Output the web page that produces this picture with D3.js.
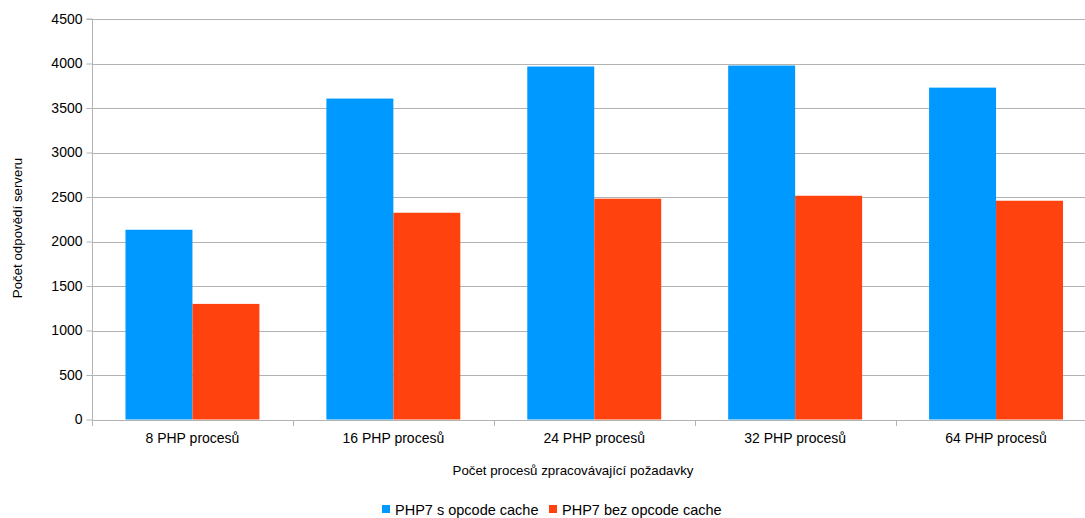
<!DOCTYPE html>
<html>
<head>
<meta charset="utf-8">
<script src="https://cdn.jsdelivr.net/npm/d3@7"></script>
<style>
  html, body { margin: 0; padding: 0; background: #fff; }
  svg { display: block; font-family: "Liberation Sans", Arial, sans-serif; }
</style>
</head>
<body>
<svg id="chart" width="1085" height="518"></svg>
<script>
// Number of server responses per PHP process count
const categories = ["8 PHP procesů", "16 PHP procesů", "24 PHP procesů", "32 PHP procesů", "64 PHP procesů"];
const withCache = [2132, 3606, 3966, 3977, 3729];
const withoutCache = [1299, 2323, 2481, 2514, 2458];
const seriesNames = ["PHP7 s opcode cache", "PHP7 bez opcode cache"];
const seriesColors = ["#0099ff", "#ff420e"];
const yTicks = [0, 500, 1000, 1500, 2000, 2500, 3000, 3500, 4000, 4500];

const svg = d3.select("#chart");
const plot = { left: 92, right: 1096.5, top: 19, bottom: 419.5 };

const x = d3.scaleBand().domain(categories).range([plot.left, plot.right]).paddingInner(0).paddingOuter(0);
const xInner = d3.scaleBand().domain([0, 1]).range([0, x.bandwidth()]).paddingInner(0).paddingOuter(0.5);
const y = d3.scaleLinear().domain([0, 4500]).range([plot.bottom, plot.top]);

// horizontal gridlines
svg.append("g")
  .selectAll("line")
  .data(yTicks)
  .join("line")
  .attr("x1", plot.left).attr("x2", plot.right)
  .attr("y1", d => Math.round(y(d)) + 0.5).attr("y2", d => Math.round(y(d)) + 0.5)
  .attr("stroke", "#b3b3b3").attr("stroke-width", 1);

// bars
const rows = categories.map((c, i) => ({ c, vals: [withCache[i], withoutCache[i]] }));
const groups = svg.append("g").selectAll("g").data(rows).join("g")
  .attr("transform", d => `translate(${x(d.c)},0)`);
groups.selectAll("rect")
  .data(d => d.vals.map((v, k) => ({ v, k })))
  .join("rect")
  .attr("x", d => xInner(d.k))
  .attr("width", xInner.bandwidth())
  .attr("y", d => y(d.v))
  .attr("height", d => y(0) - y(d.v))
  .attr("fill", d => seriesColors[d.k]);

// y axis
const yAxis = svg.append("g")
  .attr("transform", `translate(${plot.left + 0.5},0)`)
  .call(d3.axisLeft(y).tickValues(yTicks).tickSize(6).tickPadding(4).tickFormat(d3.format("d")));
yAxis.select(".domain").attr("stroke", "#b3b3b3").attr("d", `M-6,${plot.top}H0V${plot.bottom + 6}`);
yAxis.selectAll(".tick line").attr("stroke", "#b3b3b3");
yAxis.selectAll(".tick text").attr("fill", "#000").style("font-size", "14px").style("font-family", "Liberation Sans, Arial, sans-serif");

// x axis
const xAxis = svg.append("g")
  .attr("transform", `translate(0,${Math.round(plot.bottom) + 0.5})`)
  .call(d3.axisBottom(x).tickSize(0).tickPadding(13));
xAxis.select(".domain").attr("stroke", "#b3b3b3").attr("d", `M${plot.left},0H${plot.right}`);
xAxis.selectAll(".tick text").attr("fill", "#000").style("font-size", "14px").style("font-family", "Liberation Sans, Arial, sans-serif");
// category separators
svg.append("g").selectAll("line")
  .data(categories.map(c => x(c)).concat([plot.right]))
  .join("line")
  .attr("x1", d => Math.round(d) + 0.5).attr("x2", d => Math.round(d) + 0.5)
  .attr("y1", Math.round(plot.bottom)).attr("y2", Math.round(plot.bottom) + 6)
  .attr("stroke", "#b3b3b3");

// axis titles
svg.append("text")
  .attr("x", 573).attr("y", 475)
  .attr("text-anchor", "middle")
  .style("font-size", "13.3px").attr("fill", "#000")
  .text("Počet procesů zpracovávající požadavky");
svg.append("text")
  .attr("transform", `translate(22,228) rotate(-90)`)
  .attr("text-anchor", "middle")
  .style("font-size", "13.3px").attr("fill", "#000")
  .text("Počet odpovědí serveru");

// legend
const legend = svg.append("g").attr("transform", "translate(382,504)");
const items = [
  { name: seriesNames[0], color: seriesColors[0], dx: 0 },
  { name: seriesNames[1], color: seriesColors[1], dx: 167 }
];
const li = legend.selectAll("g").data(items).join("g").attr("transform", d => `translate(${d.dx},0)`);
li.append("rect").attr("x", 0).attr("y", 1).attr("width", 8).attr("height", 8).attr("fill", d => d.color);
li.append("text").attr("x", 13).attr("y", 10.5).style("font-size", "14.5px").attr("fill", "#000").text(d => d.name);
</script>
</body>
</html>
